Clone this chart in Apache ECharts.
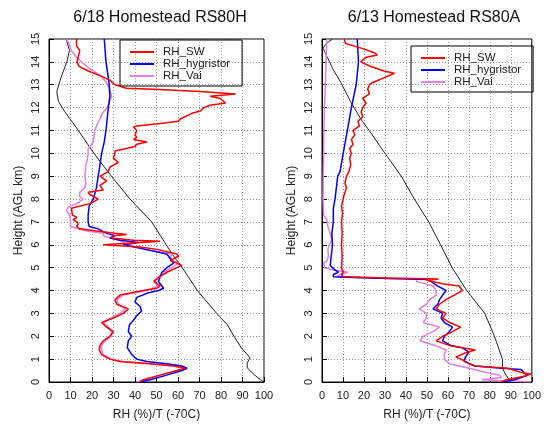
<!DOCTYPE html>
<html><head><meta charset="utf-8">
<script src="https://cdn.jsdelivr.net/npm/echarts@6/dist/echarts.min.js"></script>
<style>html,body{margin:0;padding:0;background:#fff}#c{width:544px;height:426px}</style>
</head><body><div id="c"></div>
<script>
// ---- Left panel: 6/18 Homestead RS80H ----
const L_T_h = [15,14.5,14,13.4,12.7,12.26,11.8,11.1,10,9,8,7,6,5.5,5,4,3,2.5,2,1.5,1.06,0.84,0.62,0.33,0.1,0];
const L_T_v = [8,9.5,8.3,5.9,3.6,4.4,7.5,12.9,20.9,29,37.7,47.8,54.5,58,62,69,78,83,86,89.4,93.5,92.2,92.2,95.3,98.4,100];

const L_hyg_h = [15,14,13.3,13,12.5,12,11,10.5,10,9.5,9,8.5,8,7.7,7.3,7,6.8,6.7,6.5,6.4,6.3,6.2,6.1,6.0,5.8,5.6,5.4,5.2,5.0,4.8,4.6,4.4,4.2,4.1,4.0,3.9,3.7,3.5,3.3,3.1,2.9,2.7,2.5,2.2,2.0,1.8,1.5,1.2,1.0,0.9,0.8,0.7,0.6,0.5,0.3,0.1,0];
const L_hyg_v = [25.7,26.5,27.6,28,28.3,27.6,26.5,25.7,24.5,23.7,22.9,22.1,20.6,18.7,18.2,18.2,18.7,22.9,26.8,30.7,28.4,33,41.6,34.6,44.7,54.8,56.4,58,54.8,52.5,51.7,50.9,52.5,53.3,50.9,46.3,40.8,40,42.4,43,40.8,39.3,37.4,36.9,38.5,36.9,36.4,38.5,40.8,45.5,54.8,61.8,64.2,61.8,54.8,47,42.4];

const L_sw_h = [15,14.7,14.5,14.2,14,13.8,13.6,13.4,13.2,13.0,12.85,12.8,12.7,12.6,12.5,12.4,12.2,12.1,12.0,11.85,11.75,11.5,11.4,11.3,11.2,11.15,11.0,10.8,10.7,10.6,10.5,10.4,10.3,10.1,10.0,9.8,9.6,9.4,9.2,9.0,8.8,8.6,8.4,8.3,8.2,8.0,7.8,7.6,7.3,7.2,7.1,7.0,6.9,6.8,6.7,6.6,6.5,6.45,6.4,6.3,6.2,6.15,6.1,6.0,5.9,5.8,5.6,5.5,5.4,5.3,5.2,5.1,5.0,4.8,4.6,4.4,4.2,4.1,4.0,3.8,3.6,3.4,3.2,3.0,2.8,2.6,2.4,2.2,2.0,1.8,1.6,1.4,1.2,1.0,0.9,0.8,0.7,0.6,0.5,0.3,0.1,0];
const L_sw_v = [12.8,12.8,14.3,13.6,13,14,18.2,23.7,28.3,30.7,36,48.6,70.4,86.8,75,79.6,82.1,75,72,70.4,66.5,61,60.2,51.7,40.8,39.3,40.8,40,40.8,39.3,45.5,40.8,40,30.7,30.7,29.9,32.2,28.3,27.6,23.7,26.8,23.7,25.2,18.2,19,22.9,19,10.4,10.9,13,11.2,13,13.6,12.8,14.3,22.1,30.7,36.1,29.9,29.1,39.3,51.7,42.4,25.2,42.4,50.2,59.5,60.3,58,56.4,59.5,61.8,59.5,54.8,51.4,48.9,51.7,50.2,43.9,33,30.7,31.5,36.9,34.6,29.9,24.5,26.8,29.9,28.3,25.2,23.7,23.4,24.5,28.3,33,47,58,63.4,59.5,51.7,43.9,42.4];

const L_vai_h = [15,14.8,14.5,14.2,14,13.7,13.4,13.1,12.8,12.5,12.2,12.0,11.8,11.5,11.2,11.0,10.5,10.2,10,9.7,9.5,9.0,8.7,8.5,8.3,8.1,8.0,7.8,7.65,7.5,7.3,7.0,6.8,6.6,6.5,6.4,6.3,6.2,6.0,5.9,5.8,5.6,5.4,5.3,5.2,5.0,4.8,4.6,4.4,4.2,4.0,3.8,3.6,3.4,3.2,3.0,2.8,2.6,2.4,2.2,2.0,1.8,1.6,1.4,1.2,1.0,0.9,0.8,0.7,0.6,0.5,0.3,0.1,0];
const L_vai_v = [8.1,9.3,10.4,12.8,15.1,19,23.7,26.8,28.3,29.1,28,27.1,25.2,23.7,22.1,21.3,20.6,18.2,18.2,17.8,17.1,16.7,17.1,16.7,14.3,14.3,15.9,12.8,8.9,8.1,9.7,10,10,17.4,25.5,25.2,28.3,33,36.1,40.8,45.5,57.2,56.4,58,60.3,57.2,53.3,50.9,48.6,50.9,45.5,34.6,31.5,32.2,35.4,33,29.1,25.2,27.6,29.1,29.1,26,24.5,24.5,25.2,29.1,34.6,47,58,64.2,60.3,51.7,43.9,40.8];

// ---- Right panel: 6/13 Homestead RS80A ----
const R_T_h = [15,14.8,14.6,14.4,14.2,14.0,13.7,13.1,12.26,11.4,11,10,9,8,7.2,7,6,5,4,3,2,1,0.6,0.3,0];
const R_T_v = [5,2,0.5,1.5,2.5,3.6,5.1,9,13.6,19.2,22.5,30,37.8,44,49.5,50.9,56.5,62,69,77.6,82.2,86,86,87.7,90];

const R_hyg_h = [15,14,13,12,11,10,9.2,9,8,7.6,7,6.5,6,5.5,5.1,4.9,4.8,4.7,4.6,4.55,4.48,4.4,4.2,4.0,3.8,3.6,3.4,3.2,3.0,2.8,2.6,2.4,2.2,2.0,1.8,1.6,1.5,1.3,1.1,0.9,0.7,0.6,0.55,0.4,0.3,0.2,0.1,0];
const R_hyg_v = [16.8,17.4,16.3,14,12.1,10.1,8.6,7.5,6.2,5.4,5.4,4.7,5,4.4,3.9,6.2,7.8,5.4,5.4,23,50,52,55,59.1,57.5,56,55.2,52.9,57.5,56.8,58.3,62.2,60.7,58.3,57.5,61.4,66.9,70,68.4,67.7,73,85.5,94.9,96.4,98,94.9,91.8,86.3];

const R_sw_h = [15,14.8,14.6,14.4,14.3,14.2,14.0,13.8,13.6,13.5,13.3,13.1,13.0,12.8,12.6,12.4,12.2,12.0,11.8,11.6,11.4,11.2,11.0,10.8,10.6,10.4,10.2,10.0,9.8,9.5,9.2,9.0,8.7,8.5,8.2,8.0,7.7,7.4,7,6.5,6,5.5,5.0,4.8,4.7,4.6,4.55,4.5,4.45,4.3,4.2,4.0,3.8,3.6,3.4,3.2,3.0,2.8,2.6,2.4,2.2,2.0,1.8,1.6,1.4,1.3,1.1,0.9,0.8,0.7,0.6,0.5,0.4,0.35,0.25,0.1,0];
const R_sw_v = [10.6,11.2,18.7,24.9,26.4,21,18.4,23.3,29.5,34.5,29.5,24.1,22.6,21.8,22.6,19.4,21,19.4,18.7,19.4,17.1,17.9,14.8,15.6,14,14.8,13.2,14,13.2,13.7,12.8,11.7,10.9,11.7,10.6,10.1,9.3,9.8,9.3,9.6,9.3,9.6,9.3,10.1,9.3,10.1,31,55.5,49.8,57.5,65.3,66.9,63,59.1,56,54.4,59.1,57.5,60.7,66.1,62.2,57.5,54.4,60.7,73,69.2,63.8,68.4,70,73,88.6,91.8,95.6,99.5,96.4,87.9,85.5];

const R_vai_h = [15,14,13,12,11,10,9,8,7.3,7.1,6.8,6.5,6.2,6.0,5.8,5.5,5.3,5.2,5.0,4.9,4.8,4.7,4.6,4.55,4.5,4.4,4.2,4.0,3.8,3.6,3.4,3.2,3.0,2.8,2.6,2.4,2.2,2.0,1.8,1.6,1.4,1.2,1.0,0.8,0.6,0.4,0.3,0.2,0.1,0.03,0];
const R_vai_v = [2.3,1.9,1.6,1.2,0.9,0.8,0.6,0.5,0.8,2.3,2.8,3.9,4.7,3.4,2.8,3.1,2.3,0.8,1.2,5.4,12.4,8.6,7,23,45.1,45.1,52.9,54.4,54.4,51.3,49.8,46.3,49.8,49.8,48.2,56,52.9,48.2,46.7,53.7,59.1,58.3,58.3,60.7,70,79,84.6,85.5,76.2,76,99.5];

const titles = ['6/18 Homestead RS80H', '6/13 Homestead RS80A'];
const names = ['RH_SW', 'RH_hygristor', 'RH_Vai'];
const xName = 'RH (%)/T (-70C)';
const yName = 'Height (AGL km)';

const colors = {sw: '#ff0000', hyg: '#0000ff', vai: '#e47de4', t: '#222222'};
const pair = (h, v) => h.map((y, i) => [v[i], y]);

const font = 'Liberation Sans, Arial, sans-serif';
function xAxis(gi) {
  return {
    type: 'value', gridIndex: gi, min: 0, max: 100, interval: 10,
    name: xName, nameLocation: 'middle', nameGap: 27,
    nameTextStyle: {fontSize: 12, color: '#222', fontFamily: font},
    axisLine: {show: true, lineStyle: {color: '#000', width: 1}},
    axisTick: {show: true, inside: true, length: 5, lineStyle: {color: '#000'}},
    axisLabel: {fontSize: 11, color: '#222', margin: 8, fontFamily: font},
    splitLine: {show: true, lineStyle: {color: '#9a9a9a', type: [1, 2], width: 1}}
  };
}
function yAxis(gi) {
  return {
    type: 'value', gridIndex: gi, min: 0, max: 15, interval: 1,
    name: yName, nameLocation: 'middle', nameGap: 24,
    nameTextStyle: {fontSize: 12, color: '#222', fontFamily: font},
    axisLine: {show: true, lineStyle: {color: '#000', width: 1}},
    axisTick: {show: true, inside: true, length: 5, lineStyle: {color: '#000'}},
    axisLabel: {fontSize: 11, color: '#222', rotate: 90, margin: 8, fontFamily: font},
    splitLine: {show: true, lineStyle: {color: '#9a9a9a', type: [1, 2], width: 1}}
  };
}
function line(name, data, color, gi, w) {
  return {name, type: 'line', xAxisIndex: gi, yAxisIndex: gi, data, showSymbol: false, symbol: 'none',
    lineStyle: {color, width: w}, itemStyle: {color}, animation: false, z: name ? 3 : 2};
}
function legend(left, top) {
  return {
    data: names, left, top, orient: 'vertical', icon: 'rect',
    itemWidth: 24, itemHeight: 2, itemGap: 0,
    borderColor: '#000', borderWidth: 1, padding: [6, 12, 4, 10],
    textStyle: {fontSize: 11.5, lineHeight: 11, color: '#222', fontFamily: font, padding: [0, 0, 0, 4]},
    selectedMode: false
  };
}

const chart = echarts.init(document.getElementById('c'), null, {renderer: 'canvas'});
chart.setOption({
  backgroundColor: '#fff',
  animation: false,
  title: [
    {text: titles[0], left: 155, top: 5, textAlign: 'center', textStyle: {fontSize: 16, fontWeight: 'normal', color: '#111', fontFamily: font}},
    {text: titles[1], left: 429, top: 5, textAlign: 'center', textStyle: {fontSize: 16, fontWeight: 'normal', color: '#111', fontFamily: font}}
  ],
  grid: [
    {left: 49, right: 280, top: 39, bottom: 42, show: true, borderColor: '#000', borderWidth: 1, backgroundColor: 'transparent'},
    {left: 322, right: 8, top: 39, bottom: 42, show: true, borderColor: '#000', borderWidth: 1, backgroundColor: 'transparent'}
  ],
  xAxis: [xAxis(0), xAxis(1)],
  yAxis: [yAxis(0), yAxis(1)],
  legend: [legend(120, 40), legend(411, 46)],
  series: [
    line('', pair(L_T_h, L_T_v), colors.t, 0, 1),
    line(names[2], pair(L_vai_h, L_vai_v), colors.vai, 0, 1.5),
    line(names[1], pair(L_hyg_h, L_hyg_v), colors.hyg, 0, 1.5),
    line(names[0], pair(L_sw_h, L_sw_v), colors.sw, 0, 1.5),
    line('', pair(R_T_h, R_T_v), colors.t, 1, 1),
    line(names[2], pair(R_vai_h, R_vai_v), colors.vai, 1, 1.5),
    line(names[1], pair(R_hyg_h, R_hyg_v), colors.hyg, 1, 1.5),
    line(names[0], pair(R_sw_h, R_sw_v), colors.sw, 1, 1.5)
  ]
});
</script></body></html>
